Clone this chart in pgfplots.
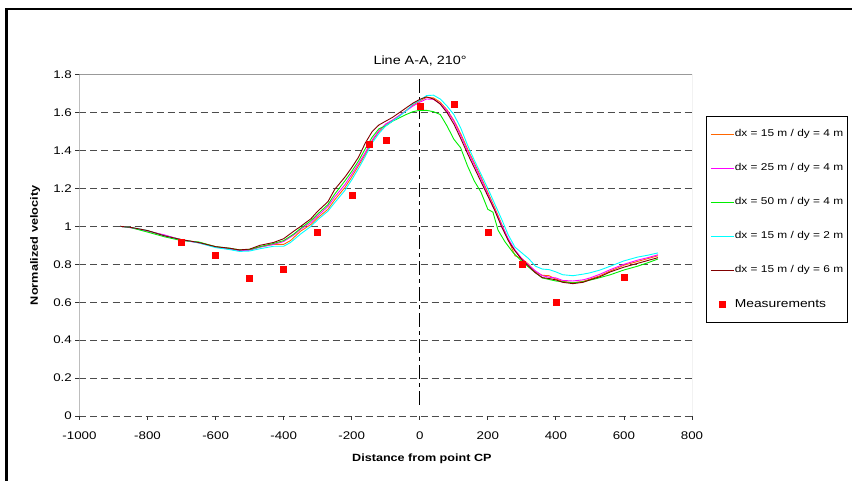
\documentclass[border=0pt]{standalone}
\usepackage{pgfplots}
\pgfplotsset{compat=1.18}
\usepackage{fontspec}
\setmainfont{Liberation Sans}[FakeStretch=1.2]

\definecolor{cOrange}{HTML}{FF6600}
\definecolor{cMagenta}{HTML}{FF00FF}
\definecolor{cGreen}{HTML}{00EE00}
\definecolor{cCyan}{HTML}{00FFFF}
\definecolor{cBrown}{HTML}{800000}
\definecolor{cMeas}{HTML}{FF0000}

\pgfplotsset{
  lineleg/.style={legend image code/.code={\draw[##1, line width=1pt] (0pt,0pt) -- (23.5pt,0pt);}},
  measleg/.style={legend image code/.code={\draw[mark repeat=2,mark phase=2,##1] plot coordinates {(0pt,0pt) (11.75pt,0pt) (23.5pt,0pt)};}},
}

\begin{document}
\begin{tikzpicture}[x=1pt,y=1pt]
\useasboundingbox (0,0) rectangle (852,481);
% page frame
\draw[line width=2.6pt] (6.5,-10) -- (6.5,472) -- (880,472);

\begin{axis}[
  at={(79.5pt,65pt)}, anchor=south west,
  scale only axis, width=612.5pt, height=341.3pt,
  xmin=-1000, xmax=800, ymin=0, ymax=1.8,
  xtick={-1000,-800,...,800},
  ytick={0,0.2,...,1.8},
  /pgf/number format/assume math mode=true,
  /pgf/number format/1000 sep={},
  ticklabel style={font=\fontsize{11.1}{13}\selectfont},
  xticklabel style={anchor=center, text depth=0pt, yshift=-16pt},
  yticklabel style={anchor=east, inner sep=0pt, xshift=-3.5pt},
  tick align=outside, major tick length=4pt,
  xtick pos=bottom, ytick pos=left,
  tick style={black!80, line width=0.8pt},
  axis line style={draw=none},
  ymajorgrids,
  major grid style={black!70, line width=0.8pt, dash pattern=on 7pt off 4pt},
  extra y ticks={1}, extra y tick labels={},
  extra y tick style={grid style={black!45, line width=1.8pt, dash pattern=on 7pt off 4pt}},
  title={Line A-A, 210°},
  title style={at={(0.556,1)}, anchor=base, yshift=4.2pt, font=\fontsize{12}{14}\selectfont},
  xlabel={Distance from point CP},
  xlabel style={at={(0.559,0)}, anchor=center, text depth=0pt, yshift=-42pt, font=\bfseries\fontsize{10.5}{12}\selectfont},
  ylabel={Normalized velocity},
  ylabel style={at={(-0.0743,0.5)}, anchor=center, text depth=0pt, font=\bfseries\fontsize{10.6}{12}\selectfont},
  legend style={at={(1.0224,0.8777)}, anchor=north west, draw=black, line width=0.7pt, fill=white,
    font=\fontsize{9.9}{11}\selectfont, inner xsep=4.3pt, inner ysep=12.8pt,
    row sep=25.1pt, cells={anchor=west},
    nodes={inner sep=0pt, text height=7pt, text depth=2pt},
    /tikz/every even column/.style={column sep=3.5pt}},
  legend cell align=left,
  clip=true,
]

% plot area border
\draw[black!40, line width=0.8pt] (rel axis cs:0,0) -- (rel axis cs:0,1) -- (rel axis cs:1,1) -- (rel axis cs:1,0);

% reference line through point CP
\addplot[black, line width=0.9pt, dash pattern=on 14pt off 4pt on 4pt off 4pt, forget plot] coordinates {(0,0.06) (0,1.8)};

% dx = 15 m / dy = 4 m
\addplot[color=cOrange, line width=0.9pt, lineleg] coordinates {
(-880,1.000) (-850,0.995) (-800,0.977) (-750,0.952) (-700,0.930) (-650,0.915) (-600,0.893)
(-560,0.882) (-530,0.874) (-500,0.877) (-470,0.892) (-430,0.905) (-400,0.905) (-380,0.925)
(-350,0.975) (-320,1.010) (-300,1.045) (-270,1.090) (-250,1.140) (-220,1.205) (-200,1.260)
(-180,1.320) (-160,1.380) (-140,1.450) (-120,1.500) (-100,1.538) (-80,1.560) (-60,1.585)
(-40,1.612) (-20,1.640) (0,1.662) (20,1.680) (40,1.678) (60,1.655) (80,1.615) (100,1.560)
(120,1.490) (140,1.410) (160,1.335) (180,1.260) (200,1.180) (220,1.100) (240,1.015)
(260,0.930) (280,0.845) (300,0.830) (320,0.800) (340,0.760) (360,0.742) (380,0.740)
(400,0.722) (420,0.710) (450,0.703) (480,0.710) (500,0.722) (530,0.740) (560,0.765)
(600,0.795) (640,0.815) (670,0.830) (700,0.845)};
\addlegendentry{dx = 15 m / dy = 4 m}

% dx = 25 m / dy = 4 m
\addplot[color=cMagenta, line width=0.9pt, lineleg] coordinates {
(-880,1.000) (-850,0.993) (-800,0.975) (-750,0.955) (-700,0.928) (-650,0.913) (-600,0.892)
(-560,0.880) (-530,0.872) (-500,0.874) (-470,0.890) (-430,0.905) (-400,0.920) (-370,0.955)
(-350,0.985) (-320,1.020) (-300,1.055) (-270,1.105) (-250,1.155) (-220,1.220) (-200,1.275)
(-180,1.330) (-160,1.390) (-140,1.455) (-120,1.505) (-100,1.540) (-80,1.560) (-60,1.585)
(-40,1.610) (-20,1.635) (0,1.655) (20,1.672) (40,1.670) (60,1.648) (80,1.610) (100,1.555)
(120,1.480) (140,1.400) (160,1.325) (180,1.250) (200,1.170) (220,1.090) (240,1.010)
(260,0.935) (280,0.875) (300,0.830) (320,0.795) (340,0.765) (360,0.740) (380,0.732)
(400,0.728) (420,0.715) (450,0.712) (480,0.718) (500,0.728) (530,0.748) (560,0.772)
(600,0.800) (640,0.822) (670,0.835) (700,0.850)};
\addlegendentry{dx = 25 m / dy = 4 m}

% dx = 50 m / dy = 4 m
\addplot[color=cGreen, line width=0.9pt, lineleg] coordinates {
(-880,1.000) (-850,0.994) (-800,0.970) (-750,0.945) (-700,0.925) (-650,0.918) (-600,0.893)
(-560,0.885) (-530,0.876) (-500,0.878) (-470,0.893) (-430,0.910) (-400,0.925) (-370,0.960)
(-350,0.990) (-320,1.030) (-300,1.065) (-270,1.115) (-250,1.170) (-220,1.240) (-200,1.290)
(-180,1.345) (-160,1.410) (-140,1.470) (-120,1.515) (-100,1.530) (-80,1.555) (-60,1.572)
(-40,1.590) (-20,1.605) (0,1.612) (20,1.612) (40,1.605) (60,1.590) (80,1.530) (100,1.460)
(120,1.415) (140,1.320) (160,1.240) (180,1.180) (200,1.090) (215,1.075) (230,0.980)
(250,0.920) (275,0.860) (300,0.815) (330,0.770) (360,0.728) (400,0.712) (450,0.702)
(480,0.708) (520,0.725) (560,0.745) (600,0.770) (640,0.790) (670,0.808) (700,0.828)};
\addlegendentry{dx = 50 m / dy = 4 m}

% dx = 15 m / dy = 2 m
\addplot[color=cCyan, line width=0.9pt, lineleg] coordinates {
(-880,1.000) (-850,0.995) (-800,0.978) (-750,0.950) (-700,0.930) (-650,0.913) (-600,0.888)
(-560,0.878) (-530,0.868) (-500,0.870) (-470,0.882) (-430,0.895) (-400,0.895) (-380,0.915)
(-350,0.960) (-320,1.000) (-300,1.035) (-270,1.080) (-250,1.125) (-220,1.190) (-200,1.245)
(-180,1.305) (-160,1.370) (-140,1.440) (-120,1.490) (-100,1.530) (-80,1.555) (-60,1.580)
(-40,1.610) (-20,1.645) (0,1.665) (20,1.690) (40,1.692) (60,1.672) (80,1.635) (100,1.590)
(120,1.520) (140,1.430) (160,1.350) (180,1.275) (200,1.200) (220,1.120) (240,1.040)
(260,0.955) (280,0.890) (300,0.860) (320,0.830) (340,0.790) (360,0.775) (380,0.772)
(400,0.760) (420,0.745) (450,0.740) (480,0.748) (500,0.755) (530,0.770) (560,0.790)
(600,0.818) (640,0.838) (670,0.848) (700,0.860)};
\addlegendentry{dx = 15 m / dy = 2 m}

% dx = 15 m / dy = 6 m
\addplot[color=cBrown, line width=0.9pt, lineleg] coordinates {
(-880,1.000) (-850,0.995) (-800,0.978) (-750,0.950) (-700,0.930) (-650,0.915) (-600,0.893)
(-560,0.885) (-530,0.876) (-500,0.880) (-470,0.900) (-430,0.915) (-400,0.935) (-370,0.975)
(-350,1.000) (-320,1.040) (-300,1.080) (-270,1.130) (-250,1.195) (-220,1.260) (-200,1.310)
(-180,1.365) (-160,1.440) (-140,1.500) (-120,1.535) (-100,1.555) (-80,1.575) (-60,1.600)
(-40,1.625) (-20,1.650) (0,1.670) (20,1.683) (40,1.672) (60,1.645) (80,1.600) (100,1.540)
(120,1.465) (140,1.385) (160,1.310) (180,1.235) (200,1.160) (220,1.085) (240,1.000)
(260,0.925) (280,0.870) (300,0.825) (320,0.790) (340,0.755) (360,0.730) (380,0.725)
(400,0.718) (420,0.705) (450,0.698) (480,0.705) (500,0.718) (530,0.735) (560,0.760)
(600,0.785) (640,0.805) (670,0.820) (700,0.835)};
\addlegendentry{dx = 15 m / dy = 6 m}

% measurements
\addplot[only marks, mark=square*, mark size=3pt, color=cMeas, measleg] coordinates {
(-700,0.915) (-600,0.848) (-500,0.725) (-400,0.775) (-300,0.968) (-200,1.167) (-150,1.434)
(-100,1.452) (0,1.633) (100,1.642) (200,0.968) (300,0.800) (400,0.598) (600,0.732)};
\addlegendentry{\fontsize{11.5}{13}\selectfont Measurements}

% x axis line
\draw[black!85, line width=0.9pt] (rel axis cs:0,0) -- (rel axis cs:1,0);
\end{axis}
\end{tikzpicture}
\end{document}
